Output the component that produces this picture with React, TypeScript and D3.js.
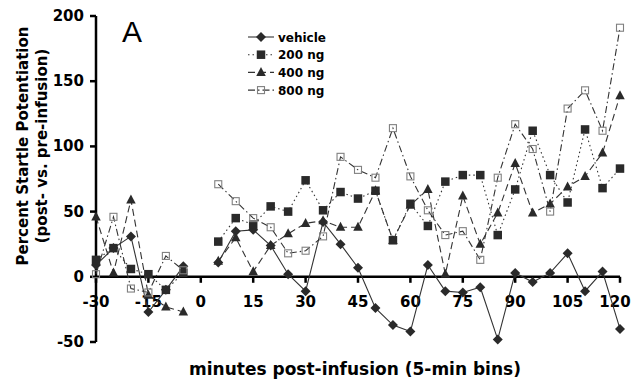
import React from 'react';
import * as d3 from 'd3';

const times = [-30, -25, -20, -15, -10, -5, 0, 5, 10, 15, 20, 25, 30, 35, 40, 45, 50, 55, 60, 65, 70, 75, 80, 85, 90, 95, 100, 105, 110, 115, 120];

const vehicle = [9, 22, 31, -27, -10, 8, null, 11, 35, 36, 24, 2, -11, 42, 25, 7, -24, -37, -42, 9, -11, -12, -8, -48, 3, -4, 3, 18, -11, 4, -40];
const ng200 = [13, 22, 6, 2, -10, 3, null, 27, 45, 40, 54, 50, 74, 51, 65, 60, 66, 28, 56, 39, 73, 78, 78, 32, 67, 112, 78, 57, 113, 68, 83];
const ng400 = [46, 3, 59, -14, -23, -27, null, 12, 30, 4, 24, 33, 41, 43, 38, 38, 66, 28, 55, 67, 2, 62, 25, 49, 87, 49, 56, 69, 77, 95, 139];
const ng800 = [2, 46, -9, -12, 16, 5, null, 71, 58, 45, 38, 18, 20, 31, 92, 82, 76, 114, 77, 51, 32, 35, 13, 76, 117, 98, 50, 129, 143, 112, 191];

const seriesNames = ['vehicle', '200 ng', '400 ng', '800 ng'];
const xTicks = [-30, -15, 0, 15, 30, 45, 60, 75, 90, 105, 120];
const yTicks = [-50, 0, 50, 100, 150, 200];

const FONT = '"DejaVu Sans", Verdana, sans-serif';

type Marker = 'diamond' | 'square' | 'triangle' | 'open';

function MarkerShape({ type, x, y }: { type: Marker; x: number; y: number }) {
  if (type === 'diamond') {
    const r = 5;
    return <path d={`M${x},${y - r}L${x + r},${y}L${x},${y + r}L${x - r},${y}Z`} fill="#2a2a2a" />;
  }
  if (type === 'square') {
    const s = 8.5;
    return <rect x={x - s / 2} y={y - s / 2} width={s} height={s} fill="#2a2a2a" />;
  }
  if (type === 'triangle') {
    const w = 9.5, h = 9;
    return <path d={`M${x},${y - h * 0.6}L${x + w / 2},${y + h * 0.4}L${x - w / 2},${y + h * 0.4}Z`} fill="#2a2a2a" />;
  }
  const s = 7;
  return <rect x={x - s / 2} y={y - s / 2} width={s} height={s} fill="none" stroke="#808080" strokeWidth={1.1} />;
}

export default function App() {
  const width = 631, height = 383;
  const x = d3.scaleLinear().domain([-30, 120]).range([96, 620]);
  const y = d3.scaleLinear().domain([-50, 200]).range([342, 16]);

  const series: { name: string; values: (number | null)[]; marker: Marker; dash: string }[] = [
    { name: seriesNames[0], values: vehicle, marker: 'diamond', dash: '' },
    { name: seriesNames[1], values: ng200, marker: 'square', dash: '1.5,3' },
    { name: seriesNames[2], values: ng400, marker: 'triangle', dash: '7,4' },
    { name: seriesNames[3], values: ng800, marker: 'open', dash: '7,3,1.5,3' },
  ];

  const lineGen = d3
    .line<[number, number | null]>()
    .defined((d) => d[1] != null)
    .x((d) => x(d[0]))
    .y((d) => y(d[1] as number));

  const drawOrder = [0, 1, 2, 3];

  return (
    <svg width={width} height={height} style={{ position: 'absolute', left: 0, top: 0, background: '#fff' }}>
      {/* axes */}
      <line x1={x(-30)} x2={x(-30)} y1={y(200)} y2={y(-50)} stroke="#000" strokeWidth={2.5} />
      <line x1={x(-30)} x2={x(120)} y1={y(0)} y2={y(0)} stroke="#000" strokeWidth={2.5} />
      {yTicks.map((t) => (
        <g key={'y' + t}>
          <line x1={x(-30) - 6} x2={x(-30)} y1={y(t)} y2={y(t)} stroke="#000" strokeWidth={2.5} />
          <text x={84} y={y(t) + 5} textAnchor="end" fontFamily={FONT} fontWeight="bold" fontSize={15} fill="#000">
            {t}
          </text>
        </g>
      ))}
      {xTicks.map((t) => (
        <g key={'x' + t}>
          <line x1={x(t)} x2={x(t)} y1={y(0)} y2={y(0) + 6} stroke="#000" strokeWidth={2.5} />
          <text x={Math.min(x(t), 615)} y={307} textAnchor="middle" fontFamily={FONT} fontWeight="bold" fontSize={15} fill="#000">
            {t}
          </text>
        </g>
      ))}

      {/* series */}
      {drawOrder.map((i) => {
        const s = series[i];
        const pts = times.map((t, k) => [t, s.values[k]] as [number, number | null]);
        return (
          <g key={s.name}>
            <path d={lineGen(pts) || ''} fill="none" stroke="#333" strokeWidth={1.1} strokeDasharray={s.dash || undefined} />
            {pts
              .filter((p) => p[1] != null)
              .map((p, k) => (
                <MarkerShape key={k} type={s.marker} x={x(p[0])} y={y(p[1] as number)} />
              ))}
          </g>
        );
      })}

      {/* panel label */}
      <text x={122} y={42} fontFamily='"Liberation Sans", Arial, sans-serif' fontSize={30} fill="#000">
        A
      </text>

      {/* legend */}
      {series.map((s, i) => {
        const cy = 37 + i * 17.7;
        return (
          <g key={'leg' + i}>
            <line x1={248} x2={274} y1={cy} y2={cy} stroke="#333" strokeWidth={1.1} strokeDasharray={s.dash || undefined} />
            <MarkerShape type={s.marker} x={261} y={cy} />
            <text x={278} y={cy + 4.5} fontFamily={FONT} fontWeight="bold" fontSize={12} fill="#000">
              {s.name}
            </text>
          </g>
        );
      })}

      {/* axis titles */}
      <text transform="translate(28,146) rotate(-90)" textAnchor="middle" fontFamily={FONT} fontWeight="bold" fontSize={15} fill="#000">
        Percent Startle Potentiation
      </text>
      <text transform="translate(47,146) rotate(-90)" textAnchor="middle" fontFamily={FONT} fontWeight="bold" fontSize={15} fill="#000">
        (post- vs. pre-infusion)
      </text>
      <text x={355} y={375} textAnchor="middle" fontFamily={FONT} fontWeight="bold" fontSize={17} fill="#000">
        minutes post-infusion (5-min bins)
      </text>
    </svg>
  );
}
